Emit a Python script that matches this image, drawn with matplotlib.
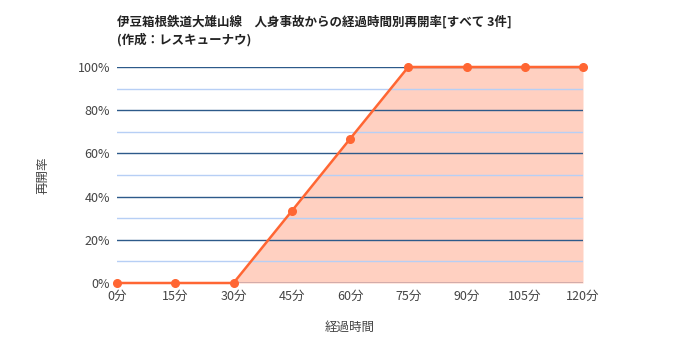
import matplotlib
matplotlib.use("Agg")
import matplotlib.pyplot as plt
import numpy as np

plt.rcParams["font.family"] = ["Noto Sans CJK JP", "DejaVu Sans"]

minutes = [0, 15, 30, 45, 60, 75, 90, 105, 120]
rate = [0, 0, 0, 33.3, 66.7, 100, 100, 100, 100]
x_labels = [f"{m}分" for m in minutes]
y_major = [0, 20, 40, 60, 80, 100]
y_minor = [10, 30, 50, 70, 90]

title = "伊豆箱根鉄道大雄山線　人身事故からの経過時間別再開率[すべて 3件]\n(作成：レスキューナウ)"

fig = plt.figure(figsize=(7, 3.5), dpi=100)
ax = fig.add_axes([117 / 700, 1 - 283 / 350, 466 / 700, 216 / 350])

ax.fill_between(minutes, rate, 0, color="#ff6633", alpha=0.3, lw=0, zorder=1)
for y in y_minor:
    ax.axhline(y, color="#b7cff5", lw=1, zorder=2)
for y in y_major[1:]:
    ax.axhline(y, color="#2d5a8a", lw=1, zorder=2)
ax.axhline(0, color="#1f1a4d", lw=1, zorder=2)
ax.plot(minutes, rate, color="#ff6633", lw=1.8, marker="o", ms=5.5,
        zorder=3, clip_on=False)

ax.set_xlim(0, 120)
ax.set_ylim(0, 100)
ax.set_xticks(minutes)
ax.set_xticklabels(x_labels)
ax.set_yticks(y_major)
ax.set_yticklabels([f"{v}%" for v in y_major])
ax.tick_params(length=0, labelsize=9, labelcolor="#444444", pad=5)
for s in ax.spines.values():
    s.set_visible(False)

ax.set_xlabel("経過時間", fontsize=9, color="#444444", labelpad=13)
ax.set_ylabel("再開率", fontsize=9, color="#444444", labelpad=20)

fig.text(117 / 700, 1 - 15 / 350, title, fontsize=9, fontweight="bold",
         va="top", ha="left", color="#222222", linespacing=1.4)

fig.savefig("out.png", dpi=100)
